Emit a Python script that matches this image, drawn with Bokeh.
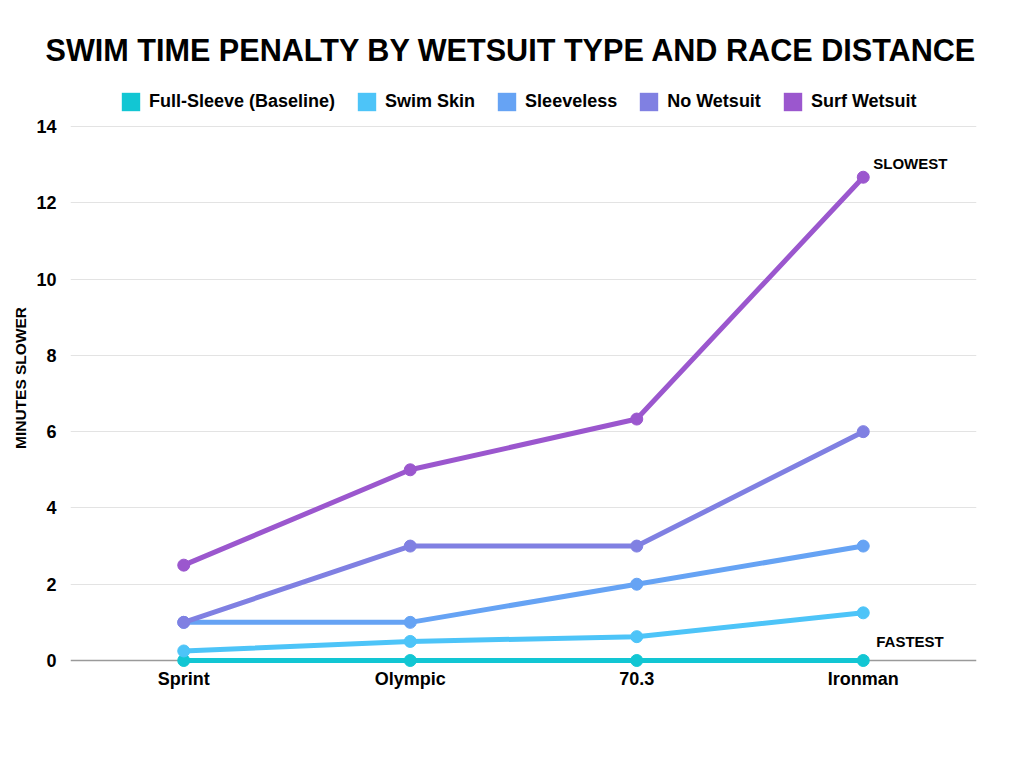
from bokeh.plotting import figure
from bokeh.models import Legend, LegendItem, FixedTicker, Span, Range1d, ColumnDataSource
from bokeh.core.properties import value
from bokeh.embed import file_html
from bokeh.resources import INLINE

# ---- data ----
distances = ["Sprint", "Olympic", "70.3", "Ironman"]
series_names = ["Full-Sleeve (Baseline)", "Swim Skin", "Sleeveless", "No Wetsuit", "Surf Wetsuit"]
full_sleeve = [0, 0, 0, 0]
swim_skin = [0.25, 0.5, 0.625, 1.25]
sleeveless = [1, 1, 2, 3]
no_wetsuit = [1, 3, 3, 6]
surf_wetsuit = [2.5, 5, 6.33, 12.67]
y_ticks = [0, 2, 4, 6, 8, 10, 12, 14]
annotation_labels = ["SLOWEST", "FASTEST"]
annotation_distance = ["Ironman", "Ironman"]
annotation_values = [surf_wetsuit[-1], full_sleeve[-1]]

# ---- styles ----
colors = ["#12C6D3", "#4DC4F8", "#66A3F4", "#8080E2", "#9B57CE"]
FONT = "Liberation Sans"
series = [full_sleeve, swim_skin, sleeveless, no_wetsuit, surf_wetsuit]

p = figure(
    x_range=distances,
    y_range=Range1d(-0.262, 15.075),
    width=1008, height=720,
    output_backend="svg", toolbar_location=None,
    min_border_left=70, min_border_right=32,
    min_border_top=85, min_border_bottom=50,
)
p.background_fill_color = "white"
p.border_fill_color = "white"
p.outline_line_color = None

p.title.text = "SWIM TIME PENALTY BY WETSUIT TYPE AND RACE DISTANCE"
p.title.text_font = FONT
p.title.text_font_style = "bold"
p.title.text_font_size = "30.6px"
p.title.align = "left"
p.title.offset = -25
p.title.standoff = 38
p.title.text_color = "black"

# axes
p.yaxis.ticker = FixedTicker(ticks=y_ticks)
p.yaxis.axis_line_color = None
p.yaxis.major_tick_line_color = None
p.yaxis.minor_tick_line_color = None
p.yaxis.major_tick_out = 0
p.yaxis.major_tick_in = 0
p.yaxis.minor_tick_out = 0
p.yaxis.major_label_text_font = FONT
p.yaxis.major_label_text_font_style = "bold"
p.yaxis.major_label_text_font_size = "18px"
p.yaxis.major_label_text_color = "black"
p.yaxis.major_label_standoff = 14
p.yaxis.axis_label = "MINUTES SLOWER"
p.yaxis.axis_label_text_font = FONT
p.yaxis.axis_label_text_font_style = "bold"
p.yaxis.axis_label_text_font_size = "15.5px"
p.yaxis.axis_label_text_color = "black"
p.yaxis.axis_label_standoff = 4

p.xaxis.axis_line_color = None
p.xaxis.major_tick_line_color = None
p.xaxis.minor_tick_line_color = None
p.xaxis.major_tick_out = 0
p.xaxis.major_tick_in = 0
p.xaxis.minor_tick_out = 0
p.xaxis.major_label_text_font = FONT
p.xaxis.major_label_text_font_style = "bold"
p.xaxis.major_label_text_font_size = "18px"
p.xaxis.major_label_text_color = "black"
p.xaxis.major_label_standoff = -2

p.xgrid.grid_line_color = None
p.ygrid.ticker = FixedTicker(ticks=y_ticks[1:])
p.ygrid.grid_line_color = "#e3e3e3"
p.ygrid.grid_line_width = 1

zero_line = Span(location=0, dimension="width", line_color="#9a9a9a", line_width=1.5, level="underlay")
p.add_layout(zero_line)

for name, vals, col in zip(series_names, series, colors):
    src = ColumnDataSource(dict(x=distances, y=vals))
    p.line("x", "y", source=src, line_color=col, line_width=5)
    p.scatter("x", "y", source=src, size=12, fill_color=col, line_color=col, marker="circle")

# legend swatches (off-range dummy rects, only their legend glyph is seen)
items = []
for name, col in zip(series_names, colors):
    r = p.rect(x=[distances[0]], y=[-100.0], width=0.1, height=0.1, fill_color=col, line_color=None)
    items.append(LegendItem(label=name, renderers=[r]))

legend = Legend(items=items, orientation="horizontal", location=(49, 557),
                glyph_width=23, glyph_height=23, label_standoff=7, spacing=20,
                margin=0, padding=0, border_line_color=None, background_fill_alpha=0,
                label_text_font=FONT, label_text_font_style="bold",
                label_text_font_size="18px", label_text_color="black")
p.add_layout(legend)

ann_src = ColumnDataSource(dict(x=annotation_distance, y=annotation_values, t=annotation_labels,
                                xo=[10, 13], yo=[-14, -19]))
p.text("x", "y", text="t", source=ann_src, x_offset="xo", y_offset="yo",
       text_font=value(FONT), text_font_style="bold", text_font_size="15px",
       text_baseline="middle", text_align="left", text_color="black")

open("out.html", "w").write(file_html(p, INLINE))
